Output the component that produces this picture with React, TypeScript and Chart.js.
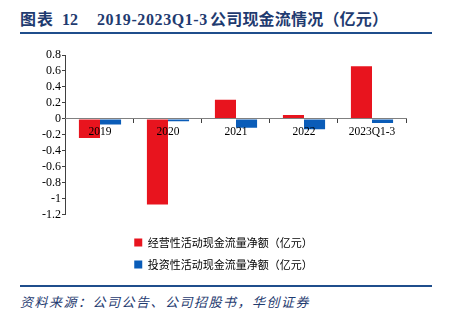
import React, { useEffect, useRef } from "react";
import { Chart, registerables } from "chart.js";

Chart.register(...registerables);

const categories = ["2019", "2020", "2021", "2022", "2023Q1-3"];
const operatingCF = [-0.24, -1.07, 0.24, 0.05, 0.66];
const investingCF = [-0.07, -0.03, -0.11, -0.13, -0.05];
const seriesNames = ["经营性活动现金流量净额（亿元）", "投资性活动现金流量净额（亿元）"];
const yTicks = [0.8, 0.6, 0.4, 0.2, 0, -0.2, -0.4, -0.6, -0.8, -1, -1.2];

const RED = "#E8141E";
const BLUE = "#0A5CB8";
const NAVY = "#1F3B70";
const SERIF = "'Liberation Serif', 'Noto Sans CJK SC', serif";

const titleBase: React.CSSProperties = {
  position: "absolute",
  top: 9,
  fontFamily: SERIF,
  fontWeight: "bold",
  fontSize: 16,
  lineHeight: "22px",
  color: NAVY,
  whiteSpace: "pre",
};

export default function App() {
  const ref = useRef<HTMLCanvasElement | null>(null);

  useEffect(() => {
    if (!ref.current) return;
    const chart = new Chart(ref.current, {
      type: "bar",
      data: {
        labels: categories,
        datasets: [
          { label: seriesNames[0], data: operatingCF, backgroundColor: RED, borderWidth: 0 },
          { label: seriesNames[1], data: investingCF, backgroundColor: BLUE, borderWidth: 0 },
        ],
      },
      options: {
        animation: false,
        responsive: false,
        maintainAspectRatio: false,
        layout: { padding: { top: 15, left: 5, right: 10, bottom: 0 } },
        datasets: { bar: { categoryPercentage: 0.62, barPercentage: 1 } },
        scales: {
          x: {
            position: { y: 0 } as any,
            grid: {
              display: true,
              offset: true,
              drawOnChartArea: false,
              drawTicks: true,
              tickLength: 4,
              color: "#404040",
              z: 1,
            } as any,
            border: { display: true, color: "#808080", width: 1, z: 1 } as any,
            ticks: {
              color: "#000",
              padding: 2,
              maxRotation: 0,
              autoSkip: false,
              z: 1,
              font: { family: SERIF, size: 11.5 },
            } as any,
          },
          y: {
            min: -1.2,
            max: 0.8,
            afterBuildTicks: (axis: any) => {
              axis.ticks = yTicks.map((v) => ({ value: v }));
            },
            grid: {
              display: true,
              drawOnChartArea: false,
              drawTicks: true,
              tickLength: 4,
              color: "#404040",
            },
            border: { display: true, color: "#404040", width: 1 },
            ticks: {
              color: "#000",
              padding: 1,
              autoSkip: false,
              font: { family: SERIF, size: 12 },
              callback: (v: any) => String(Math.round(Number(v) * 10) / 10),
            },
          },
        },
        plugins: {
          legend: {
            display: true,
            position: "bottom",
            title: { display: true, text: "", padding: { top: 5, bottom: 5 }, font: { size: 1 } },
            labels: {
              boxWidth: 8,
              boxHeight: 8,
              padding: 11,
              color: "#000",
              font: { family: "'Noto Sans CJK SC', sans-serif", size: 11 },
            },
          },
          tooltip: { enabled: false },
        },
      },
    });
    return () => chart.destroy();
  }, []);

  return (
    <div style={{ position: "absolute", left: 0, top: 0, width: 451, height: 323, background: "#fff", overflow: "hidden" }}>
      <div style={{ ...titleBase, left: 20, letterSpacing: 1 }}>{"图表"}</div>
      <div style={{ ...titleBase, left: 62 }}>{"12"}</div>
      <div style={{ ...titleBase, left: 97, letterSpacing: 0.6 }}>{"2019-2023Q1-3"}</div>
      <div style={{ ...titleBase, left: 210, letterSpacing: 0.2 }}>{"公司现金流情况（亿元）"}</div>
      <div style={{ position: "absolute", left: 20, top: 32, width: 412, height: 2, background: "#1F4E8C" }} />
      <div style={{ position: "absolute", left: 36, top: 40, width: 380, height: 240 }}>
        <canvas ref={ref} width={380} height={240} style={{ display: "block" }} />
      </div>
      <div style={{ position: "absolute", left: 20, top: 285, width: 412, height: 2, background: "#1F4E8C" }} />
      <div
        style={{
          position: "absolute",
          left: 20,
          top: 293,
          fontFamily: "'Noto Sans CJK SC', sans-serif",
          fontStyle: "italic",
          fontSize: 13,
          letterSpacing: 1.5,
          lineHeight: "18px",
          color: NAVY,
          whiteSpace: "pre",
        }}
      >
        {"资料来源：公司公告、公司招股书，华创证券"}
      </div>
    </div>
  );
}
